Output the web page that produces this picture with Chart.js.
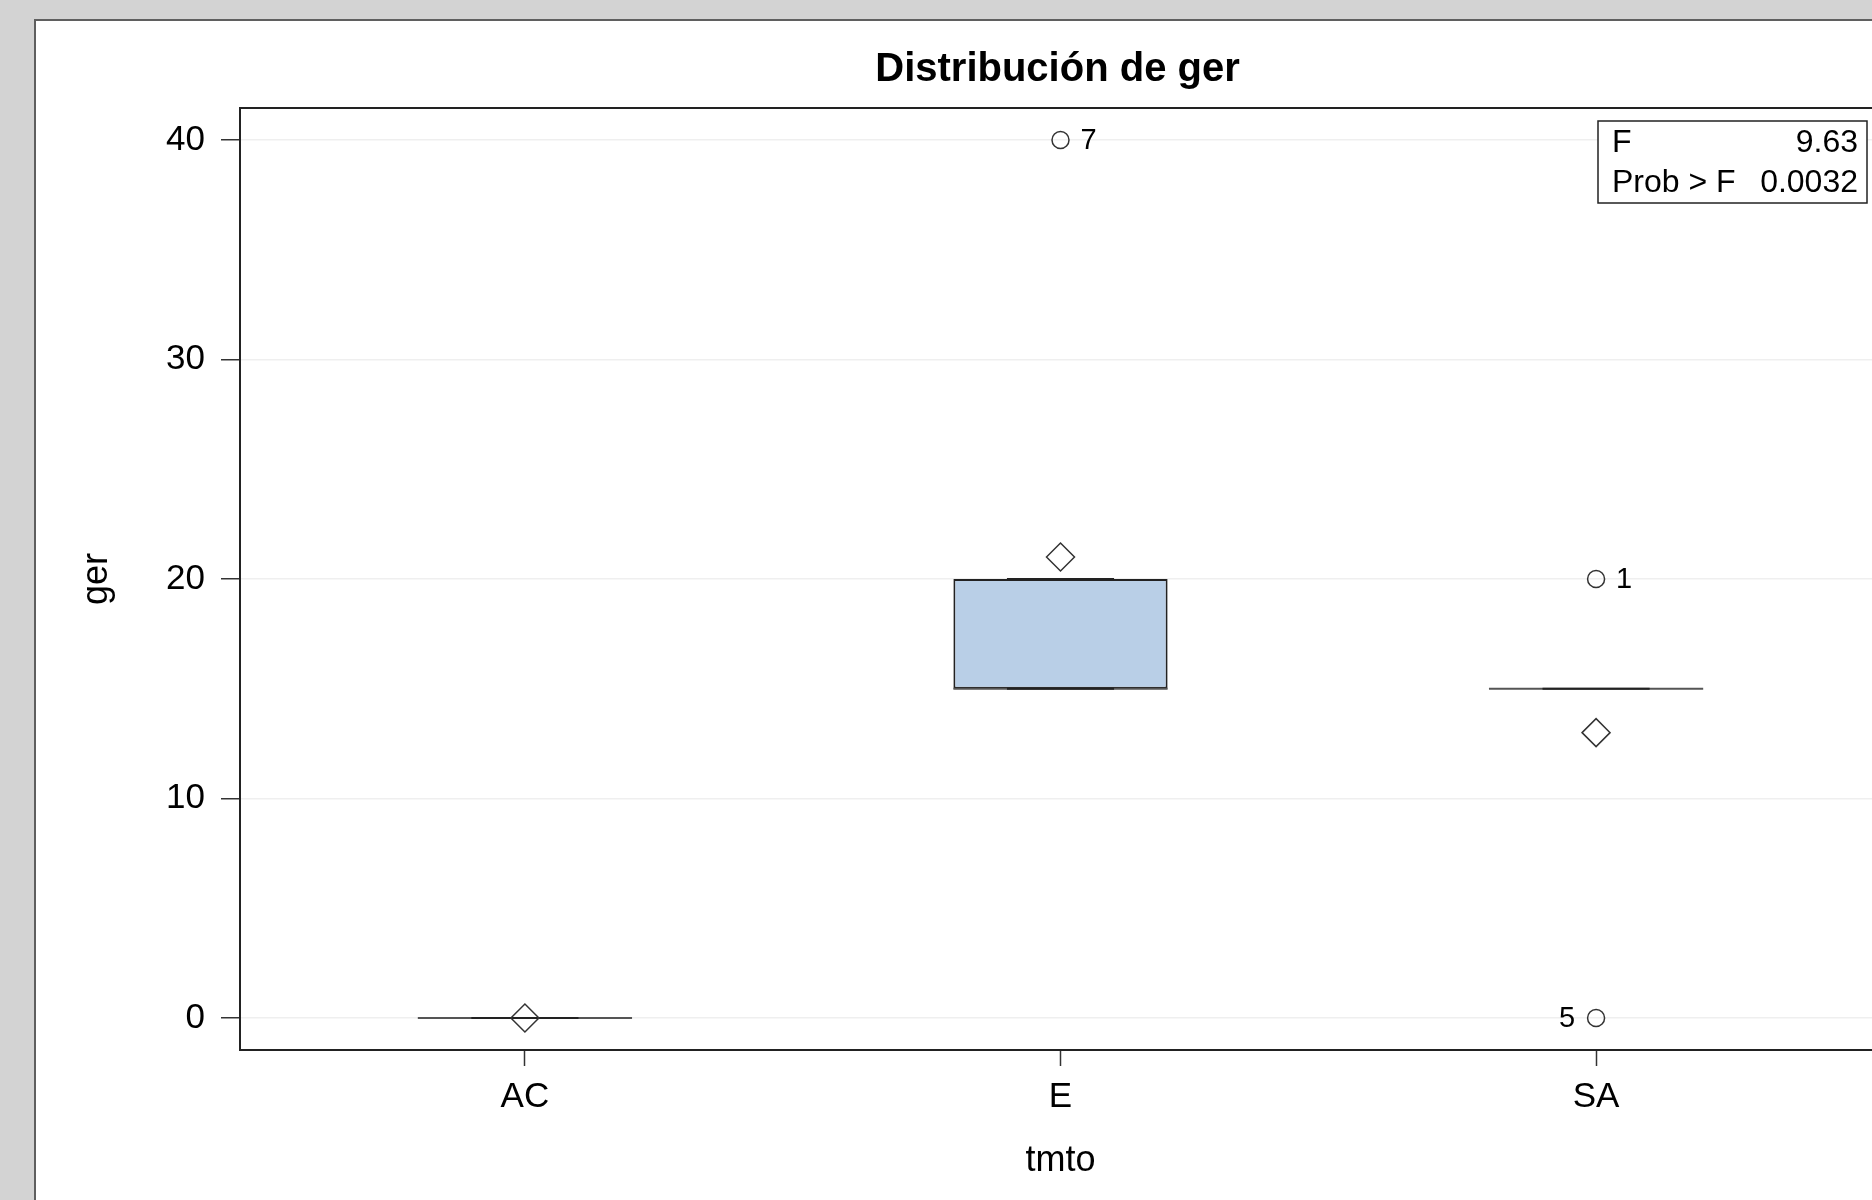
<!DOCTYPE html>
<html>
<head>
<meta charset="utf-8">
<script src="https://cdn.jsdelivr.net/npm/chart.js@4.4.1/dist/chart.umd.min.js"></script>
<style>
    html, body { margin: 0; padding: 0; overflow: hidden; background: #d3d3d3; width: 1872px; height: 1200px; }
    #panel { position: absolute; left: 34px; top: 19px; width: 1900px; height: 1250px; background: #fff; border-left: 2px solid #5f5f5f; border-top: 2px solid #5f5f5f; }
    #myChart { position: absolute; left: 0; top: 0; }
</style>
</head>
<body>
<div id="panel"></div>
<canvas id="myChart" width="1920" height="1200"></canvas>
<script>
// datos
var categorias = ['AC', 'E', 'SA'];
var q1 = [0, 15, 15];
var medianas = [0, 15, 15];
var q3 = [0, 20, 15];
var bigoteInf = [0, 15, 15];
var bigoteSup = [0, 20, 15];
var medias = [0, 21, 13];
var atipicoCat = [1, 2, 2];
var atipicoVal = [40, 20, 0];
var atipicoObs = ['7', '1', '5'];
var yTicks = [0, 10, 20, 30, 40];
var estNombres = ['F', 'Prob > F'];
var estValores = ['9.63', '0.0032'];

var fuente = '"Liberation Sans", Arial, sans-serif';
var lado = ['right', 'right', 'left'];

function gerarGrafico() {
    const ctx = document.getElementById('myChart');

    // cajas q1..q3
    var cajas = categorias.map((c, i) => ({ x: i, y: [q1[i], q3[i]] }));

    // lineas de mediana, con huecos entre categorias
    var lineaMed = [];
    categorias.forEach((c, i) => {
        lineaMed.push({ x: i - 0.2, y: medianas[i] });
        lineaMed.push({ x: i + 0.2, y: medianas[i] });
        lineaMed.push({ x: i, y: null });
    });

    // bigotes y sus topes
    var bigotes = [];
    categorias.forEach((c, i) => {
        bigotes.push({ x: i, y: q3[i] }, { x: i, y: bigoteSup[i] }, { x: i, y: null });
        bigotes.push({ x: i, y: q1[i] }, { x: i, y: bigoteInf[i] }, { x: i, y: null });
        bigotes.push({ x: i - 0.1, y: bigoteSup[i] }, { x: i + 0.1, y: bigoteSup[i] }, { x: i, y: null });
        bigotes.push({ x: i - 0.1, y: bigoteInf[i] }, { x: i + 0.1, y: bigoteInf[i] }, { x: i, y: null });
    });

    var puntosMedia = categorias.map((c, i) => ({ x: i, y: medias[i] }));
    var puntosAtip = atipicoVal.map((v, i) => ({ x: atipicoCat[i], y: v }));

    const extras = {
        id: 'extras',
        afterDatasetsDraw(chart) {
            const c = chart.ctx;
            const a = chart.chartArea;
            c.save();
            // etiquetas de atipicos
            const meta = chart.getDatasetMeta(4);
            c.fillStyle = '#000';
            c.font = '29px ' + fuente;
            c.textBaseline = 'middle';
            meta.data.forEach((p, i) => {
                if (lado[i] === 'left') {
                    c.textAlign = 'right';
                    c.fillText(atipicoObs[i], p.x - 21, p.y + 1);
                } else {
                    c.textAlign = 'left';
                    c.fillText(atipicoObs[i], p.x + 20, p.y + 1);
                }
            });
            // marco del area
            c.strokeStyle = '#222';
            c.lineWidth = 2;
            c.strokeRect(a.left, a.top, a.right - a.left, a.bottom - a.top);
            // recuadro de estadisticos
            const bx = a.right - 283, by = a.top + 13, bw = 269, bh = 82;
            c.fillStyle = '#fff';
            c.fillRect(bx, by, bw, bh);
            c.lineWidth = 1.5;
            c.strokeRect(bx, by, bw, bh);
            c.fillStyle = '#000';
            c.font = '32px ' + fuente;
            c.textBaseline = 'alphabetic';
            estNombres.forEach((n, i) => {
                c.textAlign = 'left';
                c.fillText(n, bx + 14, by + 31 + i * 40);
                c.textAlign = 'right';
                c.fillText(estValores[i], bx + bw - 9, by + 31 + i * 40);
            });
            // titulo
            c.font = 'bold 40px ' + fuente;
            c.textAlign = 'center';
            c.fillText('Distribución de ger', (a.left + a.right) / 2 - 3, 81);
            c.restore();
        }
    };

    new Chart(ctx, {
        type: 'scatter',
        data: {
            datasets: [{
                type: 'bar',
                data: cajas,
                backgroundColor: '#b9cfe7',
                borderColor: '#222',
                borderWidth: 2,
                borderSkipped: false,
                barPercentage: 0.4,
                categoryPercentage: 1,
                grouped: false,
                order: 5
            }, {
                type: 'line',
                data: lineaMed,
                borderColor: '#555',
                borderWidth: 2,
                pointRadius: 0,
                spanGaps: false,
                order: 4
            }, {
                type: 'line',
                data: bigotes,
                borderColor: '#222',
                borderWidth: 2,
                pointRadius: 0,
                spanGaps: false,
                order: 3
            }, {
                type: 'scatter',
                data: puntosMedia,
                pointStyle: 'rectRot',
                pointRadius: 14,
                backgroundColor: 'rgba(0,0,0,0)',
                borderColor: '#333',
                borderWidth: 1.5,
                order: 2
            }, {
                type: 'scatter',
                data: puntosAtip,
                pointStyle: 'circle',
                pointRadius: 8.5,
                backgroundColor: 'rgba(0,0,0,0)',
                borderColor: '#333',
                borderWidth: 1.5,
                order: 1
            }]
        },
        options: {
            responsive: false,
            animation: false,
            layout: { padding: { left: 0, top: 108, right: 39, bottom: 0 } },
            plugins: { legend: { display: false }, tooltip: { enabled: false } },
            scales: {
                x: {
                    type: 'linear',
                    min: -0.532,
                    max: 2.532,
                    offset: false,
                    afterBuildTicks: (s) => { s.ticks = categorias.map((c, i) => ({ value: i })); },
                    afterFit: (s) => { s.height = 150; },
                    ticks: {
                        callback: (v) => categorias[v],
                        color: '#000',
                        padding: 10,
                        maxRotation: 0,
                        font: { family: fuente, size: 35 }
                    },
                    grid: { drawOnChartArea: false, offset: false, tickColor: '#333', tickLength: 16, tickWidth: 1.5 },
                    border: { color: '#222', width: 2 },
                    title: { display: true, text: 'tmto', color: '#000', font: { family: fuente, size: 36 }, padding: { top: 0, bottom: 17 } }
                },
                y: {
                    min: -1.46,
                    max: 41.46,
                    afterBuildTicks: (s) => { s.ticks = yTicks.map(v => ({ value: v })); },
                    afterFit: (s) => { s.width = 240; },
                    ticks: {
                        color: '#000',
                        padding: 16,
                        font: { family: fuente, size: 35 }
                    },
                    grid: { color: '#efefef', lineWidth: 1.5, tickColor: '#333', tickLength: 19, tickWidth: 1.5 },
                    border: { color: '#222', width: 2 },
                    title: { display: true, text: 'ger', color: '#000', font: { family: fuente, size: 36 }, padding: { top: 75, bottom: 0 } }
                }
            }
        },
        plugins: [extras]
    });
}

gerarGrafico();
</script>
</body>
</html>
